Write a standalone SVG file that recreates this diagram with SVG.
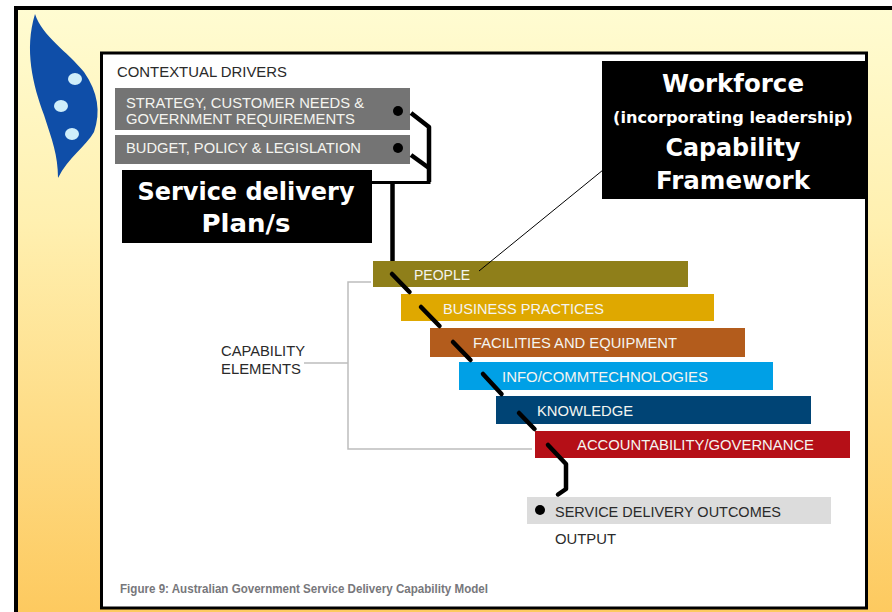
<svg xmlns="http://www.w3.org/2000/svg" width="892" height="612" viewBox="0 0 892 612">
<style>
.d{font-family:"Liberation Sans",Arial,sans-serif;font-size:14.5px}
.w{fill:#f4f4f0}
.k{fill:#2a2a2a}
.b{font-family:"DejaVu Sans",Verdana,sans-serif;font-weight:700;fill:#fff;text-anchor:middle}
.c{fill:none;stroke:#000;stroke-width:4.5;stroke-linejoin:round}
.r{stroke-linecap:round}
.g{fill:none;stroke:#bdbdbd;stroke-width:1.5}
</style>
<defs>
<linearGradient id="bg" x1="0" y1="0" x2="0" y2="1">
<stop offset="0" stop-color="#fffcd2"/>
<stop offset="0.35" stop-color="#fff0b0"/>
<stop offset="1" stop-color="#fdc95e"/>
</linearGradient>
</defs>
<rect width="892" height="612" fill="#fff"/>
<g id="frame">
<rect x="16" y="8" width="880" height="610" fill="url(#bg)" stroke="#000" stroke-width="4"/>
<path d="M35 14C42 36 68 52 84 72C98 92 101 112 94 132C86 146 68 158 58 178C58 155 52 140 44 115C33 85 24 50 35 14Z" fill="#0f4ea8"/>
<ellipse cx="75" cy="79" rx="7" ry="6" fill="#cfeefa"/>
<ellipse cx="61" cy="106" rx="7" ry="6" fill="#cfeefa"/>
<ellipse cx="72" cy="134" rx="7" ry="6" fill="#cfeefa"/>
<rect x="101.500" y="53" width="765" height="555" fill="#fff" stroke="#000" stroke-width="3"/>
<text class="d k" x="117" y="77" textLength="170" lengthAdjust="spacingAndGlyphs">CONTEXTUAL DRIVERS</text>
<text x="120" y="593" font-family="Liberation Sans,Arial,sans-serif" font-size="12.500" font-weight="700" fill="#77777b" textLength="368" lengthAdjust="spacingAndGlyphs">Figure 9: Australian Government Service Delivery Capability Model</text>
</g>
<g id="drivers-strategy">
<rect x="115" y="88" width="295" height="42" fill="#747474"/>
<text class="d w" x="126" y="108" textLength="238" lengthAdjust="spacingAndGlyphs">STRATEGY, CUSTOMER NEEDS &amp;</text>
<text class="d w" x="126" y="124" textLength="229" lengthAdjust="spacingAndGlyphs">GOVERNMENT REQUIREMENTS</text>
<circle cx="398" cy="111" r="5" fill="#000"/>
</g>
<g id="drivers-budget">
<rect x="115" y="135" width="295" height="29" fill="#747474"/>
<text class="d w" x="126" y="153" textLength="235" lengthAdjust="spacingAndGlyphs">BUDGET, POLICY &amp; LEGISLATION</text>
<circle cx="398" cy="148" r="5" fill="#000"/>
</g>
<g id="service-delivery-plans">
<rect x="122" y="170" width="250" height="73" fill="#000"/>
<text class="b" x="246" y="200" font-size="24" textLength="217" lengthAdjust="spacingAndGlyphs">Service delivery</text>
<text class="b" x="246" y="232" font-size="24" textLength="89" lengthAdjust="spacingAndGlyphs">Plan/s</text>
</g>
<g id="workforce-framework">
<rect x="602" y="61" width="264" height="138" fill="#000"/>
<text class="b" x="733" y="92" font-size="25" textLength="142" lengthAdjust="spacingAndGlyphs">Workforce</text>
<text class="b" x="733" y="123" font-size="16" textLength="240" lengthAdjust="spacingAndGlyphs">(incorporating leadership)</text>
<text class="b" x="733" y="156" font-size="25" textLength="135" lengthAdjust="spacingAndGlyphs">Capability</text>
<text class="b" x="733" y="189" font-size="25" textLength="154" lengthAdjust="spacingAndGlyphs">Framework</text>
</g>
<g id="capability-elements">
<text class="d k" x="221" y="356" textLength="84" lengthAdjust="spacingAndGlyphs">CAPABILITY</text>
<text class="d k" x="221" y="374" textLength="80" lengthAdjust="spacingAndGlyphs">ELEMENTS</text>
</g>
<g id="people">
<rect x="373" y="261" width="315" height="26" fill="#8f7f1a"/>
<text class="d w" x="414" y="280" textLength="56" lengthAdjust="spacingAndGlyphs">PEOPLE</text>
</g>
<g id="business-practices">
<rect x="401" y="294" width="313" height="27" fill="#dfa800"/>
<text class="d w" x="443" y="314" textLength="161" lengthAdjust="spacingAndGlyphs">BUSINESS PRACTICES</text>
</g>
<g id="facilities">
<rect x="430" y="328" width="315" height="29" fill="#b35c1c"/>
<text class="d w" x="473" y="348" textLength="204" lengthAdjust="spacingAndGlyphs">FACILITIES AND EQUIPMENT</text>
</g>
<g id="info">
<rect x="459" y="362" width="314" height="28" fill="#00a0e6"/>
<text class="d w" x="502" y="382" textLength="206" lengthAdjust="spacingAndGlyphs">INFO/COMMTECHNOLOGIES</text>
</g>
<g id="knowledge">
<rect x="496" y="396" width="315" height="28" fill="#004475"/>
<text class="d w" x="537" y="416" textLength="96" lengthAdjust="spacingAndGlyphs">KNOWLEDGE</text>
</g>
<g id="accountability">
<rect x="535" y="431" width="315" height="27" fill="#b50f17"/>
<text class="d w" x="577" y="450" textLength="237" lengthAdjust="spacingAndGlyphs">ACCOUNTABILITY/GOVERNANCE</text>
</g>
<g id="outcomes">
<rect x="527" y="497" width="304" height="27" fill="#dcdcdc"/>
<circle cx="540" cy="510" r="5" fill="#000"/>
<text class="d k" x="555" y="517" textLength="226" lengthAdjust="spacingAndGlyphs">SERVICE DELIVERY OUTCOMES</text>
<text class="d k" x="555" y="544" textLength="61" lengthAdjust="spacingAndGlyphs">OUTPUT</text>
</g>
<g id="connectors">
<path class="c" d="M411 113L429 127V182"/>
<path d="M430.500 182.500H372" fill="none" stroke="#000" stroke-width="3"/>
<path class="c" d="M411 155L429 168"/>
<path class="c" d="M392.500 182V261"/>
<path class="c r" d="M392 274L409.500 292"/>
<path class="c r" d="M421 307L439.500 326"/>
<path class="c r" d="M453 342L470.500 360"/>
<path class="c r" d="M483 374L501.500 394"/>
<path class="c r" d="M519 413L534.500 429"/>
<path class="c r" d="M548 445L566 464V489L558 494.500"/>
<path class="g" d="M371 282H348V449H532"/>
<path class="g" d="M304 363H348"/>
<path d="M479 271L603 170" fill="none" stroke="#000" stroke-width="1"/>
</g>
</svg>
